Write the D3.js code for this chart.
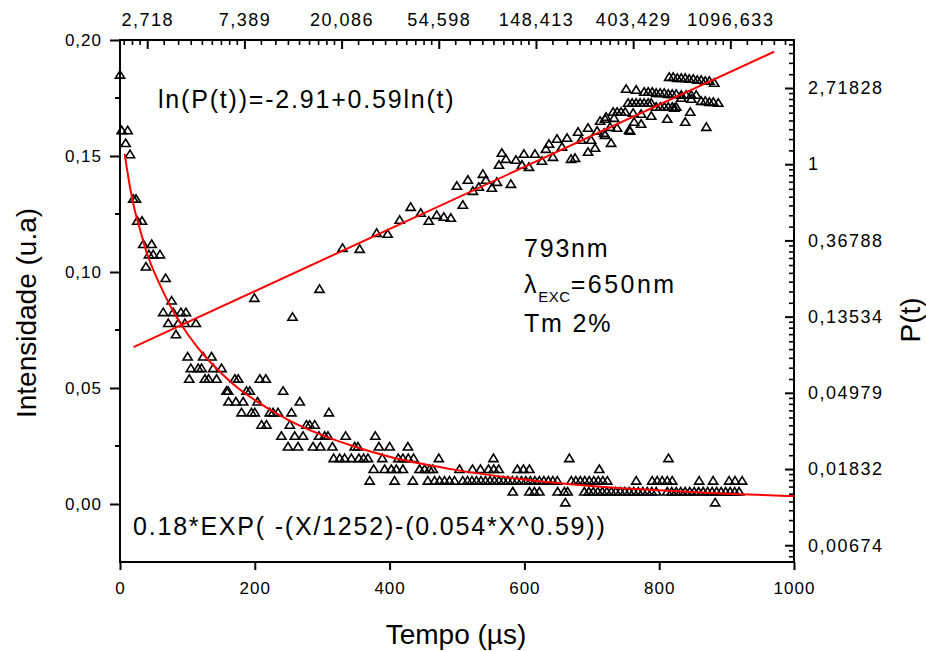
<!DOCTYPE html>
<html><head><meta charset="utf-8">
<script src="https://cdn.jsdelivr.net/npm/d3@7"></script>
<style>
body{margin:0;background:#fff}
text{font-family:"Liberation Sans",Arial,sans-serif;fill:#000}
</style>
</head><body>
<svg id="c" width="926" height="651"></svg>
<script>
// ---------------- DATA ----------------
// Decay: intensity levels (u.a) with the times (µs) of the points at each level
const decayRows = [
  [0.185,  [0]],
  [0.161,  [2.5, 11.4]],
  [0.1555, [8.4]],
  [0.1507, [14.8]],
  [0.1315, [19.7, 23.7]],
  [0.122,  [25.6, 32.6]],
  [0.112,  [34.5, 47]],
  [0.1075, [43, 49.3, 59.3]],
  [0.1023, [38.5]],
  [0.0973, [67.7]],
  [0.0876, [76.6]],
  [0.0826, [64.1, 79, 90.4, 97.8]],
  [0.0779, [71.6, 86.4, 96.3, 112.6]],
  [0.0731, [83]],
  [0.0635, [100.3, 123.4, 135.8]],
  [0.0585, [105.2, 116, 121, 138.2, 150.7]],
  [0.0539, [102.7, 126, 131.4, 143.3, 170.4, 175.3, 207.4, 216.3]],
  [0.0487, [158, 160.4, 187.7, 192.6, 242]],
  [0.0441, [161, 171.9, 182.7, 204, 266.7]],
  [0.0394, [180.3, 195.1, 200, 222.2, 227.1, 234.5, 254.4, 310]],
  [0.0341, [210, 217.3, 251.9, 276.6, 281.5, 288.9]],
  [0.0293, [239.5, 259.3, 271.6, 295.3, 303.7, 308.6, 334.8, 378.8]],
  [0.0247, [249.3, 264.1, 286.4, 297.3, 315.1, 348.1, 353, 384.1, 400, 427.1]],
  [0.0197, [317, 326, 333.3, 343.3, 354.5, 361.5, 367.9, 389.2, 412.9, 419.7, 427.7, 435.6, 473, 554.1, 666.7, 813.8]],
  [0.0150, [376.3, 392.6, 402.5, 409.9, 419.7, 444.4, 451.9, 459.3, 464.1, 503.7, 523, 534.8, 546.7, 554.5, 561.9, 589.6, 598.5, 607.4, 711.1]],
  [0.0100, [370.4, 407.4, 434.5, 456.7, 466.7, 474.1, 481.5, 488.9, 496.3, 508.6, 515.6, 522.2, 528.9, 535.6, 542.2, 548.9, 555.6, 562.2, 568.9, 575.6, 582.2, 588.9, 595.6, 602.2, 608.9, 615.6, 622.2, 628.9, 635.6, 642.2, 648.9, 669.6, 676.3, 683, 689.6, 696.3, 703, 709.6, 716.3, 723, 765.9, 789.6, 797, 804.4, 811.9, 819.3, 859.3, 880, 903.7, 912.6, 923]],
  [0.0053, [582.7, 607.4, 614.8, 622.2, 649.3, 659.3, 664.1, 688.9, 695.6, 702.2, 708.9, 715.6, 722.2, 728.9, 735.6, 742.2, 748.9, 755.6, 762.2, 768.9, 775.6, 782.2, 788.9, 795.6, 811.9, 818.5, 825.2, 831.9, 838.5, 845.2, 851.9, 858.5, 865.2, 871.9, 878.5, 885.2, 891.9, 898.5, 905.2, 911.9, 918.5]],
  [0.0006, [660.7, 883]]
];

// Fitted decay curve: [time µs, intensity]
const decayCurve = [
  [7,0.151],[10,0.145],[20,0.129],[30,0.118],[40,0.108],[50,0.1005],[60,0.094],
  [80,0.0825],[100,0.0734],[125,0.064],[150,0.0565],[175,0.050],[200,0.0448],
  [250,0.0362],[300,0.0297],[350,0.0246],[400,0.0204],[450,0.0172],[500,0.0146],
  [600,0.0106],[700,0.0078],[800,0.0059],[900,0.0044],[1000,0.0034]
];

// P(t) points: [ln t, ln P]
const pPoints = [
  [2.103,-1.756],[2.495,-2.005],[2.773,-1.638],[3.010,-1.100],[3.186,-1.113],[3.361,-0.903],
  [3.474,-0.916],[3.598,-0.732],[3.711,-0.562],[3.814,-0.640],[3.897,-0.745],[3.979,-0.667],
  [4.052,-0.693],[4.124,-0.706],[4.247,-0.535],[4.186,-0.286],[4.299,-0.207],[4.351,-0.352],
  [4.412,-0.299],[4.454,-0.129],[4.485,-0.207],[4.546,-0.312],[4.598,-0.234],[4.742,-0.260],
  [4.649,0.147],[4.619,-0.010],[4.691,0.068],[4.794,0.055],[4.856,-0.010],[4.876,0.134],
  [4.928,-0.037],[4.990,0.134],[5.062,0.042],[5.103,0.199],[5.134,0.265],[5.175,0.094],
  [5.216,0.331],[5.268,0.226],[5.320,0.344],[5.361,0.068],[5.402,0.081],[5.433,0.423],
  [5.464,0.318],[5.536,0.160],[5.536,0.475],[5.567,0.318],[5.608,0.213],[5.629,0.436],
  [5.660,0.567],[5.711,0.593],[5.701,0.409],[5.722,0.619],[5.763,0.488],[5.773,0.278],
  [5.804,0.606],[5.835,0.475],[5.711,0.383],[5.959,0.449],[6.082,0.528],[6.010,0.554],
  [5.794,0.685],[5.835,0.685],[5.876,0.685],[5.918,0.685],[6.000,0.672],[6.082,0.659],
  [6.186,0.633],[5.969,0.436],[6.351,0.593],[6.423,0.738],[6.536,0.554],[6.588,0.685],
  [6.753,0.488],
  [5.948,0.803],[5.990,0.803],[6.031,0.803],[6.072,0.803],[6.113,0.803],[6.155,0.803],[6.186,0.803],
  [6.237,0.751],[6.278,0.751],[6.320,0.751],[6.361,0.751],[6.402,0.751],[6.443,0.751],
  [6.495,0.869],[6.598,0.856],
  [6.701,0.829],[6.742,0.829],[6.784,0.816],[6.825,0.816],[6.876,0.803],
  [5.928,0.987],[6.031,0.974],[6.113,0.948],[6.155,0.948],[6.196,0.948],[6.237,0.934],
  [6.278,0.934],[6.320,0.934],[6.361,0.921],[6.402,0.921],[6.443,0.921],[6.495,0.908],
  [6.546,0.908],[6.598,0.908],[6.649,0.908],
  [6.371,1.144],[6.412,1.144],[6.454,1.131],[6.495,1.131],[6.536,1.131],[6.577,1.118],
  [6.619,1.118],[6.660,1.105],[6.701,1.105],[6.742,1.092],[6.784,1.092],[6.835,1.066]
];

// Linear fit of ln P vs ln t (end points)
const pFit = [[0.859,-2.40],[7.45,1.476]];

// Axis ticks
const bottomTicks = [0,200,400,600,800,1000];
const leftTicks = [0,0.05,0.10,0.15,0.20];
const leftTickLabels = ["0,00","0,05","0,10","0,15","0,20"];
const leftMinor = [0.025,0.075,0.125,0.175];
const topTicks = [1,2,3,4,5,6,7];             // ln t
const topTickLabels = ["2,718","7,389","20,086","54,598","148,413","403,429","1096,633"];
const rightTicks = [-5,-4,-3,-2,-1,0,1];       // ln P
const rightTickLabels = ["0,00674","0,01832","0,04979","0,13534","0,36788","1","2,71828"];

// ---------------- DRAWING ----------------
const L=120,R=794,T=40,B=562;
const svg = d3.select("#c");
const x = d3.scaleLinear([0,1000],[L,R]);
const y = d3.scaleLinear([-0.025,0.20],[B,T]);
const xTop = d3.scaleLinear([0.72,7.655],[L,R]);
const yR = d3.scaleLinear([-5.22,1.63],[B,T]);

function styleAxis(size, ls){
  return g => {
    g.select(".domain").remove();
    g.selectAll(".tick line").attr("stroke","#000").attr("stroke-width",2);
    g.selectAll(".tick text").attr("font-size",size).attr("letter-spacing",ls)
     .attr("font-family",'"Liberation Sans",Arial,sans-serif').attr("fill","#000");
  };
}

// bottom axis
svg.append("g").attr("transform",`translate(0,${B})`)
  .call(d3.axisBottom(x).tickValues(bottomTicks).tickFormat(d3.format("d")).tickSize(8).tickPadding(12))
  .call(styleAxis(17,1));

// left axis
svg.append("g").attr("transform",`translate(${L},0)`)
  .call(d3.axisLeft(y).tickValues(leftTicks).tickFormat((d,i)=>leftTickLabels[i]).tickSize(10).tickPadding(8))
  .call(styleAxis(17,1));
svg.append("g").selectAll("line").data(leftMinor).join("line")
  .attr("x1",L-5).attr("x2",L).attr("y1",d=>y(d)).attr("y2",d=>y(d))
  .attr("stroke","#000").attr("stroke-width",2);

// top axis (ln t), ticks inward
svg.append("g").attr("transform",`translate(0,${T})`)
  .call(d3.axisTop(xTop).tickValues(topTicks).tickFormat((d,i)=>topTickLabels[i]).tickSize(-9).tickPadding(14))
  .call(styleAxis(18,1.5));
// right axis (ln P), ticks inward
svg.append("g").attr("transform",`translate(${R},0)`)
  .call(d3.axisRight(yR).tickValues(rightTicks).tickFormat((d,i)=>rightTickLabels[i]).tickSize(-9).tickPadding(14))
  .call(styleAxis(18,1.5));

// minor ticks on natural-log axes: e^n * (1 + j(e-1)/9)
function lnMinor(domain){
  const out=[];
  for(let n=-7;n<=8;n++) for(let j=1;j<=8;j++){
    const v=n+Math.log(1+j*(Math.E-1)/9);
    if(v>domain[0]+0.01 && v<domain[1]-0.01) out.push(v);
  }
  return out;
}
svg.append("g").selectAll("line").data(lnMinor(xTop.domain())).join("line")
  .attr("x1",d=>xTop(d)).attr("x2",d=>xTop(d)).attr("y1",T).attr("y2",T+5)
  .attr("stroke","#000").attr("stroke-width",1.6);
svg.append("g").selectAll("line").data(lnMinor(yR.domain())).join("line")
  .attr("y1",d=>yR(d)).attr("y2",d=>yR(d)).attr("x1",R).attr("x2",R-5)
  .attr("stroke","#000").attr("stroke-width",1.6);

// frame
svg.append("rect").attr("x",L).attr("y",T).attr("width",R-L).attr("height",B-T)
  .attr("fill","none").attr("stroke","#000").attr("stroke-width",2);

// markers
const tri = "M0,-4.2L4.6,3.3L-4.6,3.3Z";
const decayPts = decayRows.flatMap(([v,ts])=>ts.map(t=>[t,v]));
svg.append("g").selectAll("path").data(decayPts).join("path")
  .attr("d",tri).attr("transform",d=>`translate(${x(d[0])},${y(d[1])})`)
  .attr("fill","none").attr("stroke","#000").attr("stroke-width",1.6);
svg.append("g").selectAll("path").data(pPoints).join("path")
  .attr("d",tri).attr("transform",d=>`translate(${xTop(d[0])},${yR(d[1])})`)
  .attr("fill","none").attr("stroke","#000").attr("stroke-width",1.6);

// red lines
svg.append("path").datum(decayCurve)
  .attr("d",d3.line().x(d=>x(d[0])).y(d=>y(d[1])).curve(d3.curveMonotoneX))
  .attr("fill","none").attr("stroke","#ff0000").attr("stroke-width",2);
svg.append("path").datum(pFit)
  .attr("d",d3.line().x(d=>xTop(d[0])).y(d=>yR(d[1])))
  .attr("fill","none").attr("stroke","#ff0000").attr("stroke-width",2);

// axis titles
svg.append("text").attr("x",456).attr("y",644).attr("text-anchor","middle")
  .attr("font-size",28).text("Tempo (µs)");
svg.append("text").attr("transform","translate(36,313) rotate(-90)").attr("text-anchor","middle")
  .attr("font-size",28).text("Intensidade (u.a)");
svg.append("text").attr("transform","translate(920,320) rotate(-90)").attr("text-anchor","middle")
  .attr("font-size",28).text("P(t)");

// annotations
const annSize = 25, annLs = 1.8;
svg.append("text").attr("x",158).attr("y",108).attr("font-size",annSize).attr("letter-spacing",annLs)
  .text("ln(P(t))=-2.91+0.59ln(t)");
svg.append("text").attr("x",133).attr("y",535).attr("font-size",annSize).attr("letter-spacing",annLs)
  .text("0.18*EXP( -(X/1252)-(0.054*X^0.59))");
svg.append("text").attr("x",524).attr("y",257).attr("font-size",annSize).attr("letter-spacing",annLs)
  .text("793nm");
const lam = svg.append("text").attr("x",524).attr("y",293).attr("font-size",annSize).attr("letter-spacing",annLs);
lam.append("tspan").text("λ");
lam.append("tspan").attr("font-size",15).attr("dy",9).attr("letter-spacing",0.5).text("EXC");
lam.append("tspan").attr("dy",-9).attr("letter-spacing",2.5).text("=650nm");
svg.append("text").attr("x",524).attr("y",332).attr("font-size",annSize).attr("letter-spacing",annLs)
  .text("Tm 2%");
</script>
</body></html>
